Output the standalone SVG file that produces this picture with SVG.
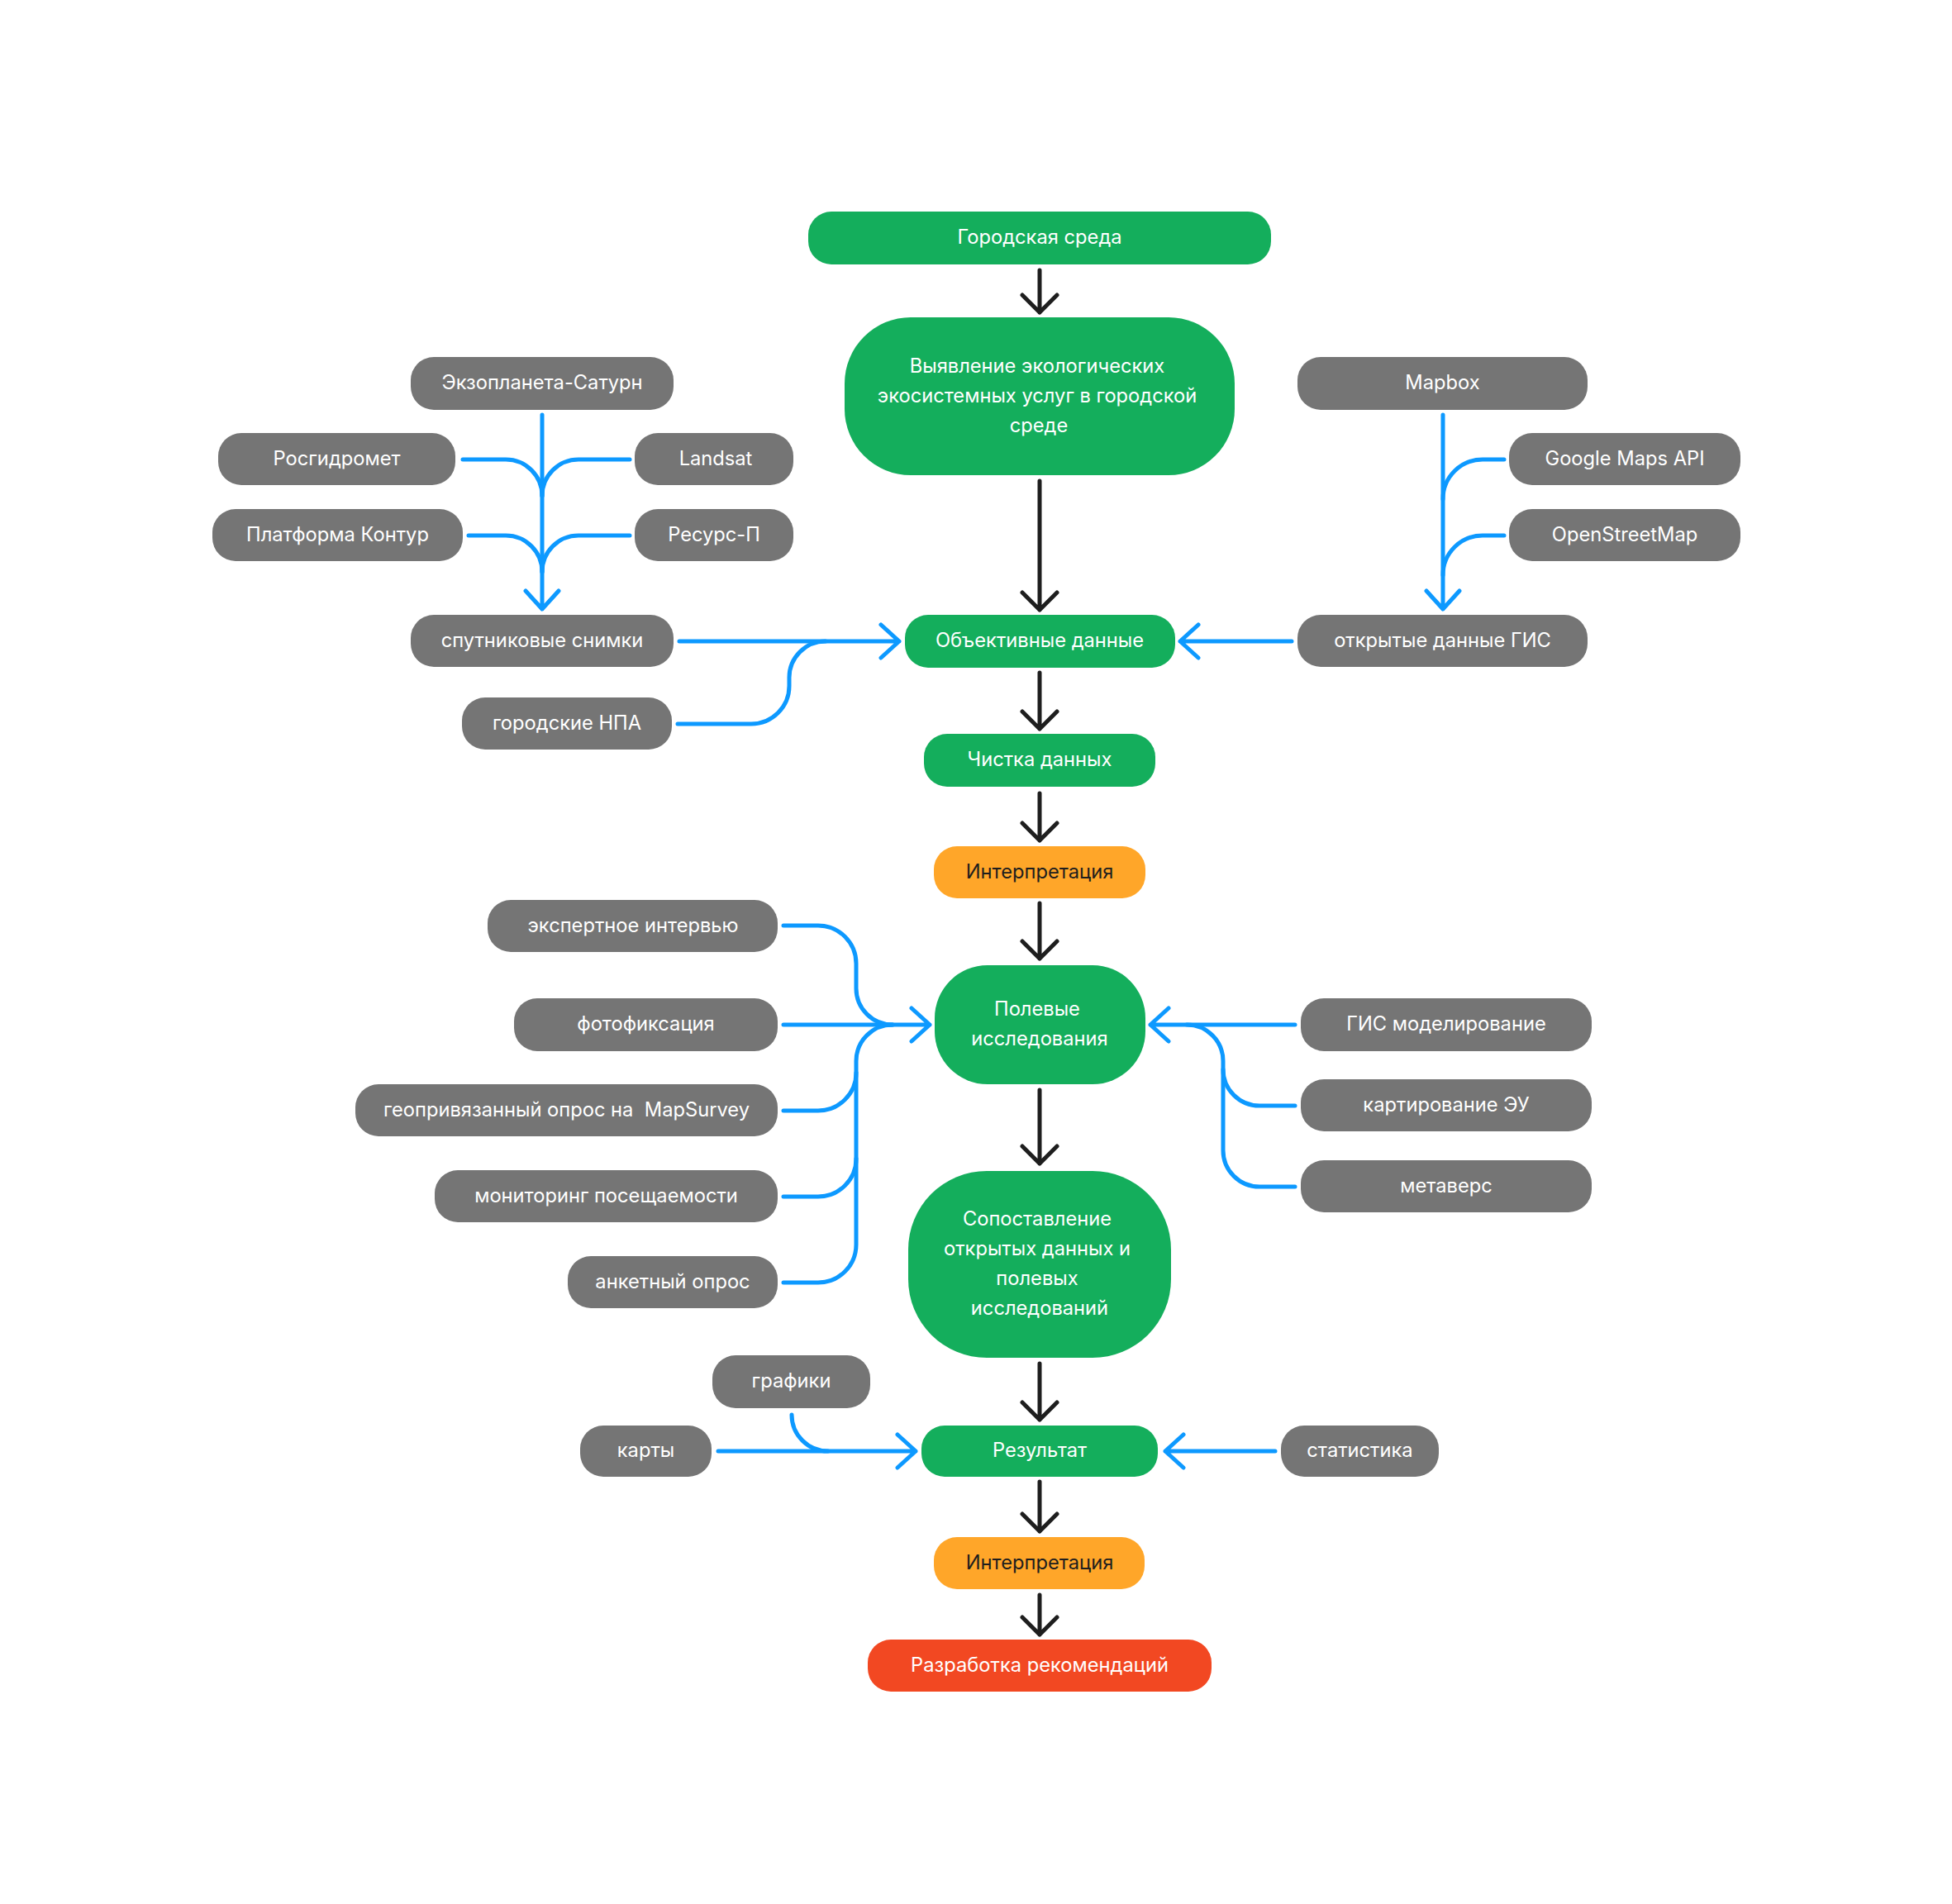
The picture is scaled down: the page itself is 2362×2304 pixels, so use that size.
<svg xmlns="http://www.w3.org/2000/svg" width="2362" height="2304" viewBox="0 0 2362 2304">
<style>
.g rect{fill:#14AE5C}
.s rect{fill:#757575}
.o rect{fill:#FFA629}
.r rect{fill:#F24822}
text{font-family:Inter,"Noto Sans","Liberation Sans",sans-serif;font-size:23.7px;fill:#FFFFFF;text-anchor:middle}
.o text{fill:#1E1E1E}
.bl{fill:none;stroke:#0D99FF;stroke-width:5;stroke-linecap:round;stroke-linejoin:round}
.bk{fill:none;stroke:#1E1E1E;stroke-width:5;stroke-linecap:round;stroke-linejoin:round}
</style>
<rect width="2362" height="2304" fill="#FFFFFF"/>
<g id="connectors">
<g class="bk">
<path d="M1258,327 V378 M1237,357 L1258,378 L1279,357"/>
<path d="M1258,582 V738 M1237,717 L1258,738 L1279,717"/>
<path d="M1258,814 V882 M1237,861 L1258,882 L1279,861"/>
<path d="M1258,960 V1017 M1237,996 L1258,1017 L1279,996"/>
<path d="M1258,1093 V1160 M1237,1139 L1258,1160 L1279,1139"/>
<path d="M1258,1319 V1408 M1237,1387 L1258,1408 L1279,1387"/>
<path d="M1258,1650 V1718 M1237,1697 L1258,1718 L1279,1697"/>
<path d="M1258,1793 V1853 M1237,1832 L1258,1853 L1279,1832"/>
<path d="M1258,1930 V1978 M1237,1957 L1258,1978 L1279,1957"/>
</g>
<g class="bl">
<path d="M656,502 V737 M636,715 L656,737 L676,715"/>
<path d="M560,556 H612 A44,44 0 0 1 656,600"/>
<path d="M762,556 H700 A44,44 0 0 0 656,600"/>
<path d="M567,648 H612 A44,44 0 0 1 656,692"/>
<path d="M762,648 H700 A44,44 0 0 0 656,692"/>
<path d="M1746,502 V737 M1726,715 L1746,737 L1766,715"/>
<path d="M1820,556 H1794 A48,48 0 0 0 1746,604"/>
<path d="M1820,648 H1794 A48,48 0 0 0 1746,696"/>
<path d="M822,776 H1088 M1066,756 L1088,776 L1066,796"/>
<path d="M820,876 H909 A46,46 0 0 0 955,830 V820 A44,44 0 0 1 999,776"/>
<path d="M1563,776 H1428 M1450,756 L1428,776 L1450,796"/>
<path d="M948,1120 H990 A46,46 0 0 1 1036,1166 V1196 A44,44 0 0 0 1080,1240"/>
<path d="M948,1240 H1125 M1103,1220 L1125,1240 L1103,1260"/>
<path d="M948,1552 H990 A46,46 0 0 0 1036,1506 V1284 A44,44 0 0 1 1080,1240"/>
<path d="M948,1344 H990 A46,46 0 0 0 1036,1298"/>
<path d="M948,1448 H990 A46,46 0 0 0 1036,1402"/>
<path d="M1567,1240 H1392 M1414,1220 L1392,1240 L1414,1260"/>
<path d="M1436,1240 A44,44 0 0 1 1480,1284 V1392 A44,44 0 0 0 1524,1436 H1567"/>
<path d="M1567,1338 H1524 A44,44 0 0 1 1480,1294"/>
<path d="M869,1756 H1108 M1086,1736 L1108,1756 L1086,1776"/>
<path d="M958,1712 A44,44 0 0 0 1002,1756"/>
<path d="M1543,1756 H1410 M1432,1736 L1410,1756 L1432,1776"/>
</g>
</g>
<g id="n-gorodskaya" class="g"><rect x="978" y="256" width="560" height="64" rx="28"/><text x="1258" y="295">Городская среда</text></g>
<g id="n-vyyavlenie" class="g"><rect x="1022" y="384" width="472" height="191" rx="80"/><text x="1255" y="451">Выявление экологических</text><text x="1255" y="487">экосистемных услуг в городской</text><text x="1257" y="523">среде</text></g>
<g id="n-obektivnye" class="g"><rect x="1095" y="744" width="327" height="64" rx="28"/><text x="1258" y="783">Объективные данные</text></g>
<g id="n-chistka" class="g"><rect x="1118" y="888" width="280" height="64" rx="28"/><text x="1258" y="927">Чистка данных</text></g>
<g id="n-interp1" class="o"><rect x="1130" y="1024" width="256" height="63" rx="28"/><text x="1258" y="1062.5">Интерпретация</text></g>
<g id="n-polevye" class="g"><rect x="1131" y="1168" width="255" height="144" rx="64"/><text x="1255" y="1229">Полевые</text><text x="1258" y="1265">исследования</text></g>
<g id="n-sopostavlenie" class="g"><rect x="1099" y="1417" width="318" height="226" rx="95"/><text x="1255" y="1483">Сопоставление</text><text x="1255" y="1519">открытых данных и</text><text x="1255" y="1555">полевых</text><text x="1258" y="1591">исследований</text></g>
<g id="n-rezultat" class="g"><rect x="1115" y="1725" width="286" height="62" rx="28"/><text x="1258" y="1763">Результат</text></g>
<g id="n-interp2" class="o"><rect x="1130" y="1860" width="255" height="63" rx="28"/><text x="1258" y="1898.5">Интерпретация</text></g>
<g id="n-razrabotka" class="r"><rect x="1050" y="1984" width="416" height="63" rx="28"/><text x="1258" y="2022.5">Разработка рекомендаций</text></g>
<g id="n-ekzoplaneta" class="s"><rect x="497" y="432" width="318" height="64" rx="28"/><text x="656" y="471">Экзопланета-Сатурн</text></g>
<g id="n-rosgidromet" class="s"><rect x="264" y="524" width="287" height="63" rx="28"/><text x="407.5" y="562.5">Росгидромет</text></g>
<g id="n-landsat" class="s"><rect x="768" y="524" width="192" height="63" rx="28"/><text x="866" y="562.5">Landsat</text></g>
<g id="n-kontur" class="s"><rect x="257" y="616" width="303" height="63" rx="28"/><text x="408.5" y="654.5">Платформа Контур</text></g>
<g id="n-resurs" class="s"><rect x="768" y="616" width="192" height="63" rx="28"/><text x="864" y="654.5">Ресурс-П</text></g>
<g id="n-sputnik" class="s"><rect x="497" y="744" width="318" height="63" rx="28"/><text x="656" y="782.5">спутниковые снимки</text></g>
<g id="n-npa" class="s"><rect x="559" y="844" width="254" height="63" rx="28"/><text x="686" y="882.5">городские НПА</text></g>
<g id="n-mapbox" class="s"><rect x="1570" y="432" width="351" height="64" rx="28"/><text x="1745.5" y="471">Mapbox</text></g>
<g id="n-google" class="s"><rect x="1826" y="524" width="280" height="63" rx="28"/><text x="1966" y="562.5">Google Maps API</text></g>
<g id="n-osm" class="s"><rect x="1826" y="616" width="280" height="63" rx="28"/><text x="1966" y="654.5">OpenStreetMap</text></g>
<g id="n-otkrytye" class="s"><rect x="1570" y="744" width="351" height="63" rx="28"/><text x="1745.5" y="782.5">открытые данные ГИС</text></g>
<g id="n-ekspert" class="s"><rect x="590" y="1089" width="351" height="63" rx="28"/><text x="766" y="1127.5">экспертное интервью</text></g>
<g id="n-foto" class="s"><rect x="622" y="1208" width="319" height="64" rx="28"/><text x="781.5" y="1247">фотофиксация</text></g>
<g id="n-geo" class="s"><rect x="430" y="1312" width="511" height="63" rx="28"/><text x="685.5" y="1350.5" xml:space="preserve">геопривязанный опрос на  MapSurvey</text></g>
<g id="n-monitoring" class="s"><rect x="526" y="1416" width="415" height="63" rx="28"/><text x="733.5" y="1454.5">мониторинг посещаемости</text></g>
<g id="n-anketa" class="s"><rect x="687" y="1520" width="254" height="63" rx="28"/><text x="814" y="1558.5">анкетный опрос</text></g>
<g id="n-gis-model" class="s"><rect x="1574" y="1208" width="352" height="64" rx="28"/><text x="1750" y="1247">ГИС моделирование</text></g>
<g id="n-kartirovanie" class="s"><rect x="1574" y="1306" width="352" height="63" rx="28"/><text x="1750" y="1344.5">картирование ЭУ</text></g>
<g id="n-metavers" class="s"><rect x="1574" y="1404" width="352" height="63" rx="28"/><text x="1750" y="1442.5">метаверс</text></g>
<g id="n-grafiki" class="s"><rect x="862" y="1640" width="191" height="64" rx="28"/><text x="957.5" y="1679">графики</text></g>
<g id="n-karty" class="s"><rect x="702" y="1725" width="159" height="62" rx="28"/><text x="781.5" y="1763">карты</text></g>
<g id="n-statistika" class="s"><rect x="1550" y="1725" width="191" height="62" rx="28"/><text x="1645.5" y="1763">статистика</text></g>
</svg>
